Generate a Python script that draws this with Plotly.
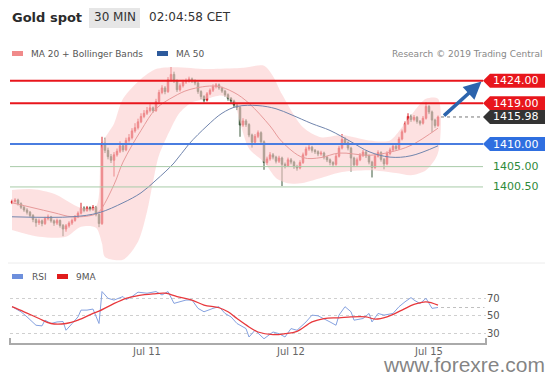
import plotly.graph_objects as go

# ---------------- data ----------------
idx = list(range(143))  # 30-min bars, Jul 10 01:30 CET .. Jul 15 01:30 CET
opens = [1397.0,1397.3,1397.6,1396.8,1396.0,1395.4,1394.9,1394.2,1393.3,1392.6,
         1393.0,1392.4,1393.5,1393.9,1393.0,1392.5,1393.1,1392.0,1391.2,1391.9,
         1392.5,1393.1,1393.9,1394.7,1395.8,1395.3,1395.9,1395.5,1396.0,1394.4,
         1392.4,1410.2,1408.6,1407.2,1406.4,1407.6,1408.4,1409.6,1408.7,1410.8,
         1411.4,1412.9,1413.6,1414.9,1416.1,1416.8,1417.4,1418.0,1417.4,1419.4,
         1421.4,1422.4,1421.6,1424.2,1425.4,1424.0,1422.0,1422.9,1423.7,1423.9,
         1424.4,1424.0,1423.5,1421.6,1420.5,1419.7,1421.1,1421.9,1422.7,1423.1,
         1422.4,1421.7,1420.9,1420.1,1419.5,1418.6,1418.1,1414.2,1415.1,1414.3,
         1412.0,1410.4,1411.7,1412.5,1410.5,1405.9,1406.7,1407.6,1407.1,1406.2,
         1406.9,1405.5,1405.2,1406.5,1406.0,1405.0,1404.7,1405.9,1407.6,1408.9,
         1409.3,1408.6,1408.3,1407.8,1408.0,1407.1,1406.5,1405.9,1405.5,1407.3,
         1409.1,1411.0,1410.3,1409.1,1406.9,1405.4,1406.5,1407.5,1408.2,1407.4,
         1406.0,1404.8,1407.3,1408.1,1406.6,1405.6,1407.9,1408.7,1409.5,1409.0,
         1411.1,1412.7,1414.5,1416.1,1415.4,1415.9,1415.0,1414.6,1415.7,1418.3,
         1417.1,1415.3,1414.1]
highs = [1397.7,1398.0,1397.9,1397.1,1396.3,1395.8,1395.2,1394.5,1393.6,1393.5,
         1393.3,1393.9,1394.4,1394.1,1393.3,1393.5,1393.3,1392.3,1392.3,1392.9,
         1393.5,1394.3,1395.1,1397.0,1396.2,1396.3,1396.2,1396.5,1396.3,1394.7,
         1411.6,1411.4,1409.2,1407.8,1408.2,1409.0,1410.6,1410.0,1411.4,1412.2,
         1413.5,1414.6,1415.6,1416.8,1417.5,1418.2,1418.8,1418.3,1420.0,1422.0,
         1423.0,1422.8,1424.8,1427.0,1426.0,1424.3,1423.4,1424.2,1424.5,1424.9,
         1424.7,1424.3,1423.8,1421.9,1420.8,1421.5,1422.3,1423.2,1423.5,1423.4,
         1422.7,1422.0,1421.2,1420.4,1419.8,1419.0,1418.4,1415.7,1415.5,1414.6,
         1412.3,1412.2,1413.0,1412.8,1410.8,1407.2,1408.2,1408.0,1407.4,1407.4,
         1407.2,1405.9,1407.0,1406.9,1406.3,1405.4,1406.4,1408.1,1409.4,1409.8,
         1409.6,1408.9,1408.6,1408.5,1408.3,1407.4,1406.8,1406.2,1407.8,1409.6,
         1412.2,1411.5,1410.6,1409.4,1407.2,1407.0,1408.0,1408.7,1408.5,1407.7,
         1406.3,1407.8,1408.6,1408.4,1406.9,1408.4,1409.2,1410.0,1409.8,1411.6,
         1413.2,1415.0,1416.8,1416.5,1416.4,1416.2,1415.3,1416.2,1419.2,1418.6,
         1417.4,1415.6,1416.3]
lows = [1396.7,1397.0,1396.4,1395.6,1395.0,1394.4,1393.8,1392.7,1391.7,1392.1,
        1391.8,1392.1,1393.1,1392.6,1391.9,1392.1,1391.5,1389.6,1390.6,1391.5,
        1392.1,1392.8,1393.6,1394.4,1394.9,1395.0,1395.1,1395.2,1394.0,1391.6,
        1392.1,1408.0,1406.6,1405.8,1402.8,1407.2,1408.0,1408.2,1408.4,1410.3,
        1411.0,1412.5,1413.2,1414.6,1415.7,1416.4,1417.0,1416.9,1417.1,1419.0,
        1421.0,1421.0,1421.3,1423.8,1423.5,1421.5,1421.6,1422.5,1423.3,1423.6,
        1423.5,1423.0,1421.1,1419.9,1419.2,1419.4,1420.8,1421.5,1422.3,1422.0,
        1421.3,1420.5,1419.6,1419.0,1418.1,1417.5,1411.6,1413.8,1413.8,1411.5,
        1409.2,1410.0,1411.3,1410.0,1404.3,1405.4,1406.3,1406.6,1405.7,1405.8,
        1400.7,1404.6,1404.9,1405.5,1404.5,1404.1,1404.4,1405.6,1407.3,1408.5,
        1408.1,1407.8,1407.3,1407.4,1406.6,1406.0,1405.3,1404.9,1405.2,1407.0,
        1408.8,1409.8,1408.6,1403.9,1404.9,1405.1,1406.2,1407.1,1406.9,1405.5,
        1402.6,1404.5,1407.0,1406.1,1404.4,1405.3,1407.5,1408.3,1408.5,1408.7,
        1410.8,1412.4,1414.2,1414.9,1415.0,1414.5,1414.1,1414.3,1415.4,1416.6,
        1412.6,1413.6,1413.8]
closes = [1397.3,1397.6,1396.8,1396.0,1395.4,1394.9,1394.2,1393.3,1392.6,1393.0,
          1392.4,1393.5,1393.9,1393.0,1392.5,1393.1,1392.0,1391.2,1391.9,1392.5,
          1393.1,1393.9,1394.7,1395.8,1395.3,1395.9,1395.5,1396.0,1394.4,1392.4,
          1410.2,1408.6,1407.2,1406.4,1407.6,1408.4,1409.6,1408.7,1410.8,1411.4,
          1412.9,1413.6,1414.9,1416.1,1416.8,1417.4,1418.0,1417.4,1419.4,1421.4,
          1422.4,1421.6,1424.2,1425.4,1424.0,1422.0,1422.9,1423.7,1423.9,1424.4,
          1424.0,1423.5,1421.6,1420.5,1419.7,1421.1,1421.9,1422.7,1423.1,1422.4,
          1421.7,1420.9,1420.1,1419.5,1418.6,1418.1,1414.2,1415.1,1414.3,1412.0,
          1410.4,1411.7,1412.5,1410.5,1405.9,1406.7,1407.6,1407.1,1406.2,1406.9,
          1405.5,1405.2,1406.5,1406.0,1405.0,1404.7,1405.9,1407.6,1408.9,1409.3,
          1408.6,1408.3,1407.8,1408.0,1407.1,1406.5,1405.9,1405.5,1407.3,1409.1,
          1411.0,1410.3,1409.1,1406.9,1405.4,1406.5,1407.5,1408.2,1407.4,1406.0,
          1404.8,1407.3,1408.1,1406.6,1405.6,1407.9,1408.7,1409.5,1409.0,1411.1,
          1412.7,1414.5,1416.1,1415.4,1415.9,1415.0,1414.6,1415.7,1418.3,1417.1,
          1415.3,1414.1,1415.98]

ma20_idx = [0,7,14,20,27,29,34,37,43,48,54,59,68,74,79,86,90,97,103,109,119,126,133,142]
ma20_val = [1397.0,1395.9,1394.8,1393.9,1394.3,1395.0,1401.0,1406.0,1413.0,1417.8,1420.5,1422.0,
            1422.8,1421.4,1419.0,1414.0,1410.5,1407.0,1407.0,1408.0,1407.5,1408.2,1409.7,1413.5]

ma50_idx = [0,20,29,37,43,48,54,59,65,70,75,82,88,93,100,106,113,119,126,133,142]
ma50_val = [1393.9,1393.9,1394.8,1397.0,1399.2,1402.0,1405.8,1410.0,1414.0,1416.8,1418.3,
            1418.5,1417.8,1416.5,1414.5,1413.0,1410.5,1408.3,1407.1,1407.4,1409.6]

bb_up_idx = [0,7,14,23,28,30,34,37,43,48,54,65,76,84,87,90,97,103,110,119,126,130,135,138,142]
bb_up_val = [1399.8,1400.0,1399.0,1395.9,1396.2,1410.0,1414.5,1420.0,1424.4,1426.6,1427.0,1426.6,
             1426.8,1427.3,1425.0,1421.0,1413.7,1411.5,1412.0,1410.8,1410.8,1413.7,1418.0,1420.0,1420.0]
bb_lo_idx = [0,9,18,23,28,30,31,37,42,45,47,49,53,56,60,65,70,74,76,79,84,88,92,97,104,110,119,128,133,138,142]
bb_lo_val = [1391.0,1389.5,1389.5,1391.7,1391.5,1388.0,1385.0,1384.4,1388.4,1395.0,1401.6,1407.5,
             1413.5,1417.0,1419.2,1420.0,1420.7,1419.2,1414.8,1409.0,1406.0,1402.5,1401.3,1401.4,
             1402.7,1403.8,1404.2,1403.6,1403.1,1404.2,1408.0]

rsi_idx = [0,3,5,8,10,11,13,15,17,18,20,22,23,25,27,29,30,32,34,37,38,40,42,45,48,50,52,54,58,60,
           62,64,67,69,71,73,75,78,79,81,84,87,89,91,93,95,98,100,102,104,106,108,109,111,113,
           114,117,119,120,122,124,127,129,131,133,134,136,138,140,142]
rsi_val = [60.4,54.6,48.8,39.2,38.5,45,41.2,43,43.5,33.5,41,48.8,56.5,56.5,57.7,41.2,77.7,70,68,72,
           68.5,72,77,75.8,77.7,73.8,77.7,64.2,68,68,58.5,54.6,58.5,60.4,52.7,48.8,41.2,35.4,25.8,33.5,
           23.8,31.5,29.6,25.8,35.4,33.5,43,50.8,50,46.9,43,39.2,50.8,60.4,54.6,45,46.9,52.7,43,52.7,
           50.8,52.7,60.4,66,70.8,68,64,70,58.5,59.5]
rsi_ma_idx = [0,4,9,13,18,22,27,29,33,38,42,47,51,55,60,64,69,72,75,79,82,87,91,95,100,104,109,113,
              118,121,125,130,134,138,142]
rsi_ma_val = [60.4,54.6,46.9,41.2,41.2,45,52.7,55.4,62.3,70,73,75,75.8,72,68,62.3,59.2,54.6,46.9,37.3,
              31.5,28.5,29.6,32.3,43,46.9,47.7,48.8,48.8,46.2,48.8,56.5,63,66,62.3]

resistances = [1424.00, 1419.00]
pivot = 1410.00
supports = [1405.00, 1400.50]
last_price = 1415.98
target = 1424.00
rsi_levels = [30, 50, 70]
day_tick_idx = [45, 93, 139]
day_tick_text = ["Jul 11", "Jul 12", "Jul 15"]

# ---------------- layout helpers ----------------
# the page body has an 8px margin, so the figure is drawn 8px smaller and
# every window-pixel position is shifted by that offset
OFF = 8
W, H = 553 - OFF, 375 - OFF
def px(x):
    return (x - OFF) / W
def py(y):
    return 1 - (y - OFF) / H

FONT = "DejaVu Sans"
RED = "#e8161c"
BLUE = "#2f6fe0"
DARK = "#333333"
GREEN_TXT = "#2f8a3a"

fig = go.Figure()

# Bollinger band
fig.add_trace(go.Scatter(
    x=bb_up_idx + bb_lo_idx[::-1], y=bb_up_val + bb_lo_val[::-1],
    fill="toself", fillcolor="rgba(251,205,205,0.6)", mode="lines",
    line=dict(width=0, shape="spline", smoothing=0.8), hoverinfo="skip",
    xaxis="x", yaxis="y"))
fig.add_trace(go.Scatter(x=ma20_idx, y=ma20_val, mode="lines",
                         line=dict(color="#e79a9a", width=1, shape="spline"),
                         xaxis="x", yaxis="y"))
fig.add_trace(go.Scatter(x=ma50_idx, y=ma50_val, mode="lines",
                         line=dict(color="#7185ad", width=1, shape="spline"),
                         xaxis="x", yaxis="y"))
fig.add_trace(go.Candlestick(
    x=idx, open=opens, high=highs, low=lows, close=closes,
    increasing=dict(line=dict(color="#d8242a", width=1), fillcolor="#d8242a"),
    decreasing=dict(line=dict(color="#3c5a3c", width=1), fillcolor="#3c5a3c"),
    whiskerwidth=0, xaxis="x", yaxis="y"))

# RSI panel
fig.add_trace(go.Scatter(x=rsi_idx, y=rsi_val, mode="lines",
                         line=dict(color="#86a2e0", width=1),
                         xaxis="x2", yaxis="y2"))
fig.add_trace(go.Scatter(x=rsi_ma_idx, y=rsi_ma_val, mode="lines",
                         line=dict(color="#e8383c", width=1.3, shape="spline"),
                         xaxis="x2", yaxis="y2"))

shapes = []
annotations = []

# level lines
for lv in resistances:
    shapes.append(dict(type="line", xref="paper", yref="y", x0=px(10), x1=px(483), y0=lv, y1=lv,
                       line=dict(color=RED, width=2)))
shapes.append(dict(type="line", xref="paper", yref="y", x0=px(10), x1=px(483), y0=pivot, y1=pivot,
                   line=dict(color="#4a7de0", width=2)))
for lv in supports:
    shapes.append(dict(type="line", xref="paper", yref="y", x0=px(10), x1=px(483), y0=lv, y1=lv,
                       line=dict(color="#a8cba8", width=1)))
# current price dotted
shapes.append(dict(type="line", xref="x", yref="y", x0=idx[-1] + 1, x1=157, y0=last_price, y1=last_price,
                   line=dict(color="#777777", width=1, dash="dot")))

# label boxes
def label_box(level, color, text):
    shapes.append(dict(type="path", xref="paper", yref="y", xsizemode="pixel", ysizemode="pixel",
                       xanchor=px(483), yanchor=level,
                       path="M0,0 L7,7 L67,7 L67,-7 L7,-7 Z",
                       fillcolor=color, line=dict(width=0)))
    annotations.append(dict(xref="paper", yref="y", x=px(491), y=level, xanchor="left", yanchor="middle",
                            text=text, showarrow=False, font=dict(family=FONT, size=11, color="white")))

label_box(resistances[0], RED, f"{resistances[0]:.2f}")
label_box(resistances[1], RED, f"{resistances[1]:.2f}")
label_box(last_price, DARK, f"{last_price:.2f}")
label_box(pivot, BLUE, f"{pivot:.2f}")
for lv in supports:
    annotations.append(dict(xref="paper", yref="y", x=px(491), y=lv, xanchor="left", yanchor="middle",
                            text=f"{lv:.2f}", showarrow=False, font=dict(family=FONT, size=11, color=GREEN_TXT)))

# target arrow
annotations.append(dict(xref="x", yref="y", axref="x", ayref="y", x=156.5, y=target - 0.2,
                        ax=143.5, ay=last_price, text="", showarrow=True, arrowhead=2,
                        arrowsize=1, arrowwidth=3.5, arrowcolor="#2c64ad"))

# header
shapes.append(dict(type="rect", xref="paper", yref="paper", x0=px(89), x1=px(140), y0=py(28), y1=py(7),
                   fillcolor="#e6e6e6", line=dict(width=0)))
annotations += [
    dict(xref="paper", yref="paper", x=px(10), y=py(17.5), xanchor="left", yanchor="middle",
         text="<b>Gold spot</b>", showarrow=False, font=dict(family=FONT, size=13, color="#2b2b2b")),
    dict(xref="paper", yref="paper", x=px(114.5), y=py(17.5), xanchor="center", yanchor="middle",
         text="30 MIN", showarrow=False, font=dict(family=FONT, size=12, color="#333")),
    dict(xref="paper", yref="paper", x=px(147), y=py(17.5), xanchor="left", yanchor="middle",
         text="02:04:58 CET", showarrow=False, font=dict(family=FONT, size=12, color="#333")),
]

# main legend
shapes.append(dict(type="rect", xref="paper", yref="paper", x0=px(12), x1=px(23), y0=py(56), y1=py(51),
                   fillcolor="#f08a8a", line=dict(width=0)))
shapes.append(dict(type="rect", xref="paper", yref="paper", x0=px(157), x1=px(168), y0=py(56), y1=py(51),
                   fillcolor="#2d5a9c", line=dict(width=0)))
annotations += [
    dict(xref="paper", yref="paper", x=px(29), y=py(53.5), xanchor="left", yanchor="middle",
         text="MA 20 + Bollinger Bands", showarrow=False, font=dict(family=FONT, size=9, color="#555")),
    dict(xref="paper", yref="paper", x=px(174), y=py(53.5), xanchor="left", yanchor="middle",
         text="MA 50", showarrow=False, font=dict(family=FONT, size=9, color="#555")),
    dict(xref="paper", yref="paper", x=px(544), y=py(54), xanchor="right", yanchor="middle",
         text="Research © 2019 Trading Central", showarrow=False, font=dict(family=FONT, size=9, color="#888")),
]

# separator between panels
shapes.append(dict(type="line", xref="paper", yref="paper", x0=0, x1=1, y0=py(263), y1=py(263),
                   line=dict(color="#ececec", width=1)))

# RSI legend
shapes.append(dict(type="rect", xref="paper", yref="paper", x0=px(12), x1=px(23), y0=py(279), y1=py(274),
                   fillcolor="#6d8fdc", line=dict(width=0)))
shapes.append(dict(type="rect", xref="paper", yref="paper", x0=px(57), x1=px(68), y0=py(279), y1=py(274),
                   fillcolor="#e01c1c", line=dict(width=0)))
annotations += [
    dict(xref="paper", yref="paper", x=px(30), y=py(276.5), xanchor="left", yanchor="middle",
         text="RSI", showarrow=False, font=dict(family=FONT, size=9, color="#555")),
    dict(xref="paper", yref="paper", x=px(74), y=py(276.5), xanchor="left", yanchor="middle",
         text="9MA", showarrow=False, font=dict(family=FONT, size=9, color="#555")),
]
# RSI current value dotted
shapes.append(dict(type="line", xref="x2", yref="y2", x0=idx[-1] + 1, x1=157.5, y0=rsi_val[-1], y1=rsi_val[-1],
                   line=dict(color="#c0c0c0", width=1, dash="dot")))

# time axis line with end caps
shapes.append(dict(type="path", xref="paper", yref="paper",
                   path=f"M {px(10)},{py(338)} L {px(10)},{py(344)} L {px(486)},{py(344)} L {px(486)},{py(338)}",
                   line=dict(color="#aaaaaa", width=2)))

# watermark
annotations.append(dict(xref="paper", yref="paper", x=px(464), y=py(364), xanchor="center", yanchor="middle",
                        text="www.forexre.com", showarrow=False,
                        font=dict(family="Liberation Sans", size=21, color="rgba(110,110,110,0.85)")))

fig.update_layout(
    width=W, height=H, autosize=False,
    margin=dict(l=0, r=0, t=0, b=0),
    paper_bgcolor="white", plot_bgcolor="rgba(0,0,0,0)",
    showlegend=False, font=dict(family=FONT),
    xaxis=dict(domain=[px(10), px(486)], range=[-0.667, 158], visible=False,
               rangeslider=dict(visible=False), anchor="y", fixedrange=True),
    yaxis=dict(domain=[py(262), py(62)], range=[1383.9, 1428.14], visible=False, anchor="x"),
    xaxis2=dict(domain=[px(10), px(486)], range=[-0.667, 158], anchor="y2",
                tickvals=day_tick_idx, ticktext=day_tick_text, showgrid=False, zeroline=False,
                showline=False, ticks="", tickfont=dict(family=FONT, size=10, color="#666")),
    yaxis2=dict(domain=[py(344), py(287)], range=[17.8, 82.9], side="right", anchor="x2",
                tickvals=rsi_levels, showgrid=True, gridcolor="#cfcfcf", griddash="dot", gridwidth=1,
                zeroline=False, showline=False, ticks="",
                tickfont=dict(family=FONT, size=10, color="#555")),
    shapes=shapes, annotations=annotations,
)

fig.write_html("out.html")
